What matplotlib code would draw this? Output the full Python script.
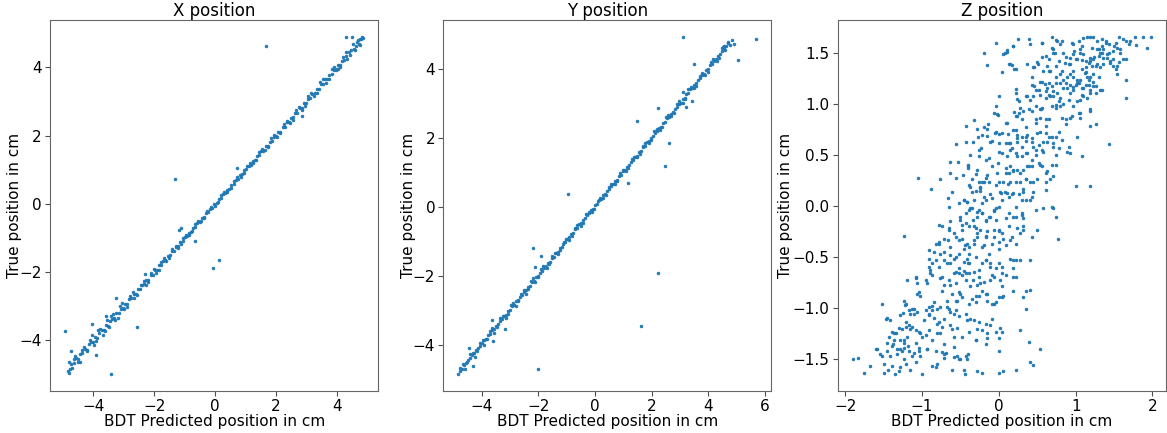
import matplotlib
matplotlib.use('Agg')
import matplotlib.pyplot as plt

# (predicted, true) pairs
x_line = [(-4.85,-4.90),(-4.78,-4.84),(-4.72,-4.70),(-4.64,-4.66),(-4.57,-4.52),(-4.50,-4.55),(-4.43,-4.40),(-4.36,-4.38),(-4.28,-4.24),(-4.22,-4.27),(-4.15,-4.12),(-4.08,-4.05),(-4.01,-4.06),(-3.94,-3.90),(-3.88,-3.93),(-3.80,-3.78),(-3.73,-3.70),(-3.66,-3.71),(-3.59,-3.55),(-3.52,-3.57),(-3.45,-3.42),(-3.38,-3.36),(-3.31,-3.34),(-3.24,-3.20),(-3.17,-3.21),(-3.10,-3.07),(-3.03,-3.05),(-2.96,-2.92),(-2.89,-2.93),(-2.82,-2.79),(-2.75,-2.77),(-2.68,-2.64),(-2.61,-2.63),(-2.54,-2.50),(-2.47,-2.49),(-2.40,-2.37),(-2.33,-2.35),(-2.26,-2.22),(-2.19,-2.22),(-2.12,-2.09),(-2.05,-2.07),(-1.98,-1.95),(-1.91,-1.93),(-1.84,-1.80),(-1.77,-1.79),(-1.70,-1.67),(-1.63,-1.65),(-1.56,-1.53),(-1.49,-1.51),(-1.42,-1.39),(-1.35,-1.37),(-1.28,-1.25),(-1.21,-1.23),(-1.14,-1.12),(-1.07,-1.09),(-1.00,-0.98),(-0.93,-0.95),(-0.86,-0.84),(-0.79,-0.81),(-0.72,-0.70),(-0.65,-0.67),(-0.58,-0.56),(-0.51,-0.53),(-0.44,-0.42),(-0.37,-0.39),(-0.30,-0.28),(-0.23,-0.25),(-0.16,-0.14),(-0.09,-0.11),(-0.02,0.00),(0.05,0.03),(0.12,0.14),(0.19,0.17),(0.26,0.28),(0.33,0.31),(0.40,0.42),(0.47,0.45),(0.54,0.56),(0.61,0.59),(0.68,0.70),(0.75,0.73),(0.82,0.84),(0.89,0.87),(0.96,0.98),(1.03,1.01),(1.10,1.12),(1.17,1.15),(1.24,1.26),(1.31,1.28),(1.38,1.40),(1.45,1.43),(1.52,1.55),(1.59,1.56),(1.66,1.69),(1.73,1.70),(1.80,1.83),(1.87,1.84),(1.94,1.97),(2.01,1.98),(2.08,2.11),(2.15,2.12),(2.22,2.25),(2.29,2.26),(2.36,2.39),(2.43,2.40),(2.50,2.53),(2.57,2.54),(2.64,2.67),(2.71,2.68),(2.78,2.81),(2.85,2.82),(2.92,2.95),(2.99,2.96),(3.06,3.09),(3.13,3.10),(3.20,3.23),(3.27,3.24),(3.34,3.37),(3.41,3.38),(3.48,3.51),(3.55,3.52),(3.62,3.65),(3.69,3.66),(3.76,3.79),(3.83,3.80),(3.90,3.93),(3.97,3.94),(4.04,4.07),(4.11,4.08),(4.18,4.20),(4.25,4.22),(4.32,4.35),(4.40,4.44),(4.48,4.50),(4.56,4.55),(4.64,4.62),(4.72,4.70),(4.80,4.84),(4.87,4.86),
    (-4.80,-4.62),(-4.70,-4.82),(-4.60,-4.45),(-4.45,-4.62),(-4.30,-4.20),(-4.05,-3.85),(-3.98,-4.14),(-3.85,-3.70),(-3.70,-3.85),(-3.55,-3.40),(-3.48,-3.62),(-3.35,-3.22),(-3.20,-3.34),(-3.05,-2.90),(-2.90,-3.02),(-2.70,-2.58),(-2.55,-2.67),(-2.35,-2.25),(-2.20,-2.30),(-2.02,-1.92),(-1.85,-1.95),(-1.68,-1.60),(-1.50,-1.58),(-1.30,-1.22),(-1.12,-1.18),(-0.95,-0.90),(-0.75,-0.80),(-0.55,-0.51),(-0.35,-0.40),(-0.12,-0.08),(0.10,0.05),(0.30,0.35),(0.52,0.48),(0.72,0.78),(0.95,0.90),(1.15,1.20),(1.35,1.30),(1.55,1.62),(1.75,1.68),(1.95,2.03),(2.15,2.08),(2.35,2.44),(2.55,2.47),(2.75,2.85),(2.95,2.86),(3.15,3.25),(3.35,3.26),(3.55,3.66),(3.75,3.65),(3.90,4.02),(4.00,3.95),(4.10,4.02),(4.30,4.45),(4.35,4.25),(4.55,4.70),(4.60,4.50),(4.70,4.80),(4.78,4.66),(4.82,4.90),
    (-4.65,-4.55),(-4.52,-4.62),(-4.38,-4.28),(-4.20,-4.32),(-4.10,-3.98),(-3.92,-4.02),(-3.78,-3.66),(-3.62,-3.74),(-3.42,-3.30),(-3.28,-3.40),(-3.12,-3.00),(-2.98,-3.08),(-2.80,-2.70),(-2.65,-2.75),(-2.45,-2.37),(-2.28,-2.38),(-2.10,-2.02),(-1.95,-2.03),(-1.78,-1.70),(-1.60,-1.68),(-1.40,-1.33),(-1.22,-1.29),(-1.05,-0.99),(-0.85,-0.90),(-0.65,-0.60),(-0.45,-0.49),(-0.25,-0.20),(0.00,-0.05),(0.20,0.26),(0.40,0.35),(0.62,0.68),(0.85,0.80),(1.05,1.11),(1.25,1.19),(1.45,1.52),(1.65,1.58),(1.85,1.93),(2.05,1.97),(2.25,2.34),(2.45,2.36),(2.65,2.75),(2.85,2.76),(3.05,3.16),(3.25,3.15),(3.45,3.57),(3.65,3.55),(3.85,3.97),(4.05,3.96),(4.20,4.32),(4.45,4.38),(4.65,4.76)]
x_outliers = [(1.67,4.62),(-1.31,0.74),(-0.08,-1.87),(0.12,-1.63),(-3.41,-4.99),(-2.55,-3.60),(-4.93,-3.73),(-4.75,-4.32),(-3.92,-4.43),(-4.04,-3.51),(-3.25,-2.77),(-1.11,-0.71),(-1.20,-0.76),(-0.66,-1.08),(2.87,2.57),(0.72,1.04),(4.30,4.89),(4.50,4.89),(4.78,4.84),(-4.80,-4.95),(-3.60,-3.30),(-2.30,-2.05)]

y_line = [(-4.82,-4.86),(-4.75,-4.76),(-4.68,-4.70),(-4.61,-4.60),(-4.54,-4.55),(-4.47,-4.44),(-4.40,-4.40),(-4.33,-4.30),(-4.26,-4.25),(-4.19,-4.16),(-4.12,-4.10),(-4.05,-4.03),(-3.98,-3.96),(-3.91,-3.88),(-3.84,-3.83),(-3.77,-3.73),(-3.70,-3.69),(-3.63,-3.59),(-3.56,-3.55),(-3.49,-3.45),(-3.42,-3.41),(-3.35,-3.31),(-3.28,-3.27),(-3.21,-3.17),(-3.14,-3.13),(-3.07,-3.03),(-3.00,-2.99),(-2.93,-2.89),(-2.86,-2.85),(-2.79,-2.75),(-2.72,-2.71),(-2.65,-2.61),(-2.58,-2.57),(-2.51,-2.47),(-2.44,-2.43),(-2.37,-2.33),(-2.30,-2.29),(-2.23,-2.19),(-2.16,-2.15),(-2.09,-2.05),(-2.02,-2.01),(-1.95,-1.91),(-1.88,-1.87),(-1.81,-1.77),(-1.74,-1.73),(-1.67,-1.63),(-1.60,-1.59),(-1.53,-1.49),(-1.46,-1.45),(-1.39,-1.35),(-1.32,-1.31),(-1.25,-1.21),(-1.18,-1.17),(-1.11,-1.07),(-1.04,-1.03),(-0.97,-0.93),(-0.90,-0.89),(-0.83,-0.79),(-0.76,-0.75),(-0.69,-0.65),(-0.62,-0.61),(-0.55,-0.51),(-0.48,-0.47),(-0.41,-0.37),(-0.34,-0.33),(-0.27,-0.23),(-0.20,-0.19),(-0.13,-0.09),(-0.06,-0.05),(0.01,0.05),(0.08,0.09),(0.15,0.19),(0.22,0.23),(0.29,0.33),(0.36,0.37),(0.43,0.47),(0.50,0.51),(0.57,0.61),(0.64,0.65),(0.71,0.75),(0.78,0.79),(0.85,0.89),(0.92,0.93),(0.99,1.03),(1.06,1.07),(1.13,1.17),(1.20,1.21),(1.27,1.31),(1.34,1.35),(1.41,1.45),(1.48,1.49),(1.55,1.59),(1.62,1.63),(1.69,1.73),(1.76,1.77),(1.83,1.87),(1.90,1.91),(1.97,2.01),(2.04,2.05),(2.11,2.15),(2.18,2.19),(2.25,2.29),(2.32,2.33),(2.39,2.43),(2.46,2.47),(2.53,2.57),(2.60,2.61),(2.67,2.71),(2.74,2.75),(2.81,2.85),(2.88,2.89),(2.95,2.99),(3.02,3.03),(3.09,3.13),(3.16,3.17),(3.23,3.27),(3.30,3.31),(3.37,3.41),(3.44,3.45),(3.51,3.55),(3.58,3.59),(3.65,3.69),(3.72,3.73),(3.79,3.83),(3.86,3.87),(3.93,3.97),(4.00,4.01),(4.07,4.11),(4.14,4.15),(4.21,4.25),(4.28,4.30),(4.35,4.39),(4.42,4.44),(4.49,4.53),(4.56,4.58),(4.63,4.67),(4.70,4.76),
    (-4.75,-4.68),(-4.60,-4.70),(-4.40,-4.28),(-4.25,-4.35),(-4.05,-3.95),(-3.90,-4.00),(-3.70,-3.60),(-3.55,-3.66),(-3.35,-3.24),(-3.15,-3.22),(-2.95,-2.84),(-2.80,-2.88),(-2.60,-2.52),(-2.45,-2.52),(-2.25,-2.14),(-2.10,-2.18),(-1.90,-1.82),(-1.70,-1.77),(-1.50,-1.42),(-1.30,-1.36),(-1.10,-1.02),(-0.90,-0.96),(-0.70,-0.62),(-0.50,-0.55),(-0.30,-0.22),(-0.10,-0.15),(0.10,0.18),(0.30,0.25),(0.50,0.58),(0.70,0.66),(0.90,0.98),(1.10,1.05),(1.30,1.38),(1.50,1.45),(1.70,1.78),(1.90,1.84),(2.10,2.20),(2.30,2.24),(2.50,2.60),(2.70,2.64),(2.90,3.00),(3.10,3.02),(3.30,3.42),(3.50,3.44),(3.70,3.80),(3.90,3.84),(4.10,4.20),(4.30,4.24),(4.50,4.62),(4.60,4.56),(4.68,4.80),(4.75,4.70),
    (-4.66,-4.58),(-4.50,-4.52),(-4.32,-4.24),(-4.15,-4.18),(-3.96,-3.86),(-3.80,-3.84),(-3.62,-3.52),(-3.46,-3.50),(-3.26,-3.16),(-3.08,-3.12),(-2.88,-2.78),(-2.70,-2.74),(-2.52,-2.43),(-2.35,-2.38),(-2.18,-2.08),(-2.00,-2.04),(-1.82,-1.72),(-1.62,-1.66),(-1.42,-1.33),(-1.22,-1.26),(-1.02,-0.94),(-0.82,-0.86),(-0.62,-0.54),(-0.42,-0.46),(-0.22,-0.14),(-0.02,-0.06),(0.18,0.26),(0.38,0.34),(0.58,0.66),(0.78,0.74),(0.98,1.06),(1.18,1.14),(1.38,1.46),(1.58,1.54),(1.78,1.86),(1.98,1.94),(2.18,2.27),(2.38,2.33),(2.58,2.68),(2.78,2.73),(2.98,3.08),(3.18,3.12),(3.38,3.49),(3.58,3.52),(3.78,3.89),(3.98,3.92),(4.18,4.30),(4.38,4.33),(4.55,4.68)]
y_outliers = [(3.09,4.94),(5.70,4.87),(5.05,4.28),(4.84,4.86),(4.92,4.74),(3.51,4.15),(2.24,2.87),(1.47,2.50),(2.63,1.85),(2.47,1.19),(1.17,0.69),(-0.96,0.38),(-2.18,-1.21),(-1.89,-1.44),(-2.13,-1.76),(2.24,-1.92),(1.64,-3.47),(-2.01,-4.72),(-3.16,-3.54),(-3.59,-3.89),(-4.32,-4.63),(-4.45,-4.10),(-3.62,-3.28),(3.12,3.34),(3.22,2.91),(3.42,3.07),(4.52,4.65)]

z_points = [
    # true ~ 1.55 .. 1.67
    (0.69,1.66),(0.82,1.62),(1.15,1.66),(1.19,1.66),(1.23,1.66),(1.34,1.64),(1.56,1.66),(1.62,1.64),(1.77,1.66),(1.88,1.66),(1.98,1.66),(-0.04,1.60),(0.39,1.64),(0.25,1.64),(0.56,1.60),(0.95,1.60),(1.04,1.62),(1.28,1.62),(1.39,1.60),(1.43,1.59),(1.58,1.54),(1.69,1.59),(1.50,1.57),(1.66,1.62),(1.93,1.55),(0.75,1.63),
    (1.10,1.65),(1.39,1.62),(1.52,1.60),(1.71,1.62),(1.78,1.58),(0.76,1.62),(0.80,1.59),(0.97,1.59),(0.41,1.59),(0.18,1.57),(1.08,1.57),(1.21,1.55),(1.30,1.54),(1.36,1.54),(1.54,1.55),(0.69,1.55),(0.56,1.60),
    # 1.3 .. 1.55
    (-0.19,1.50),(-0.16,1.38),(0.08,1.50),(0.11,1.53),(0.19,1.57),(0.04,1.31),(0.13,1.39),(0.17,1.38),(0.22,1.34),(0.37,1.39),(0.46,1.36),(0.51,1.39),(0.56,1.46),(0.63,1.37),(0.71,1.54),(0.73,1.50),(0.78,1.42),(0.86,1.40),(0.93,1.45),(1.00,1.44),(1.06,1.54),(1.10,1.49),(1.17,1.40),(1.21,1.37),(1.28,1.39),(1.32,1.50),(1.36,1.45),(1.41,1.49),(1.45,1.40),(1.49,1.52),(1.54,1.37),(1.65,1.44),(1.52,1.34),(1.19,1.42),(1.13,1.36),(0.91,1.39),(0.58,1.32),(1.28,1.54),(1.34,1.57),(1.24,1.46),(1.08,1.43),(0.98,1.52),
    (0.06,1.49),(0.11,1.51),(0.71,1.50),(0.84,1.50),(0.87,1.46),(0.74,1.37),(0.61,1.47),(0.65,1.44),(0.15,1.39),(0.20,1.34),(0.45,1.36),(0.50,1.41),(0.65,1.32),(0.97,1.49),(1.02,1.44),(0.93,1.39),(1.06,1.50),(1.13,1.42),(1.19,1.45),(1.23,1.44),(1.30,1.47),(1.34,1.50),(1.41,1.45),(1.45,1.42),(1.49,1.44),(1.56,1.41),(1.62,1.44),(1.49,1.37),(1.26,1.37),(1.32,1.36),(1.36,1.39),(1.43,1.50),(1.58,1.50),
    # 1.0 .. 1.3
    (0.00,1.08),(0.22,1.15),(0.24,1.05),(0.37,1.08),(0.46,1.18),(0.52,1.14),(0.56,1.22),(0.63,1.16),(0.67,1.08),(0.71,1.13),(0.74,1.27),(0.80,1.21),(0.84,1.16),(0.89,1.27),(0.93,1.19),(0.97,1.17),(1.02,1.21),(1.06,1.24),(1.10,1.16),(1.15,1.27),(1.17,1.19),(1.23,1.22),(1.30,1.27),(1.34,1.14),(1.65,1.24),(1.65,1.06),(0.91,1.04),(0.74,0.99),(1.06,1.04),(1.15,1.06),(0.61,1.06),(0.78,1.03),(0.82,1.32),(0.97,1.32),(0.48,0.98),(0.67,1.32),(1.19,1.11),(1.08,1.09),(0.43,1.27),(1.26,1.18),(1.12,1.30),(0.60,1.20),
    (1.54,1.29),(1.08,1.34),(1.13,1.31),(1.19,1.27),(1.23,1.29),(0.93,1.29),(0.97,1.27),(1.02,1.24),(0.80,1.29),(0.84,1.24),(0.87,1.21),(0.65,1.21),(0.69,1.18),(0.74,1.21),(0.54,1.22),(0.43,1.19),(0.48,1.14),(0.22,1.11),(0.26,1.03),(0.35,1.08),(0.41,1.04),(0.45,1.08),(0.54,1.09),(0.61,1.13),(0.65,1.09),(0.71,1.08),(0.76,1.11),(0.80,1.06),(0.89,1.16),(0.93,1.11),(0.97,1.14),(1.00,1.19),(1.04,1.21),(1.08,1.16),(1.13,1.19),(1.17,1.24),(1.19,1.14),(1.10,1.08),(1.02,1.03),(1.23,1.18),(1.26,1.11),(1.32,1.14),
    # 0.5 .. 1.0
    (-0.04,0.98),(-0.02,0.90),(-0.32,0.84),(-0.43,0.78),(-0.28,0.76),(-0.15,0.76),(-0.04,0.73),(0.04,0.72),(0.09,0.81),(0.11,0.81),(0.22,0.75),(0.24,0.88),(0.30,0.85),(0.39,0.95),(0.35,0.68),(0.43,0.67),(0.48,0.81),(0.54,0.73),(0.61,0.78),(0.65,0.85),(0.69,0.68),(0.78,0.73),(0.82,0.65),(0.87,0.80),(0.91,0.58),(0.95,0.88),(1.02,0.68),(1.06,0.91),(1.19,0.93),(1.26,0.80),(1.43,0.61),(1.19,0.78),(1.08,0.49),(0.13,0.62),(0.17,0.57),(0.24,0.67),(0.30,0.58),(0.37,0.52),(0.43,0.45),(0.52,0.60),(0.56,0.55),(0.63,0.63),(0.71,0.62),(0.74,0.50),(0.78,0.57),(0.89,0.53),(0.93,0.52),(0.04,0.52),(0.11,0.49),(0.00,0.62),(-0.11,0.63),(-0.22,0.70),(-0.37,0.50),(-0.56,0.61),(-0.17,0.45),(0.48,0.55),(0.69,0.40),(0.20,0.92),(0.55,0.95),(0.35,0.77),
    (0.97,0.98),(0.69,0.98),(0.74,0.96),(0.80,0.98),(0.84,1.00),(0.54,0.95),(0.56,0.96),(0.28,0.96),(0.32,0.93),(0.43,0.93),(0.22,0.88),(0.26,0.91),(1.19,0.95),(0.48,0.85),(0.54,0.86),(0.61,0.85),(0.82,0.86),(0.87,0.85),(0.93,0.86),(1.04,0.91),(1.06,0.86),
    (-0.19,0.77),(-0.14,0.80),(-0.27,0.68),(-0.16,0.69),(-0.09,0.64),(-0.34,0.63),(-0.43,0.63),(-0.26,0.55),(-0.23,0.57),(-0.06,0.91),(-0.01,0.89),(-0.05,0.72),(0.00,0.71),(0.12,0.71),(0.19,0.75),(0.24,0.70),(0.10,0.62),(0.14,0.62),(0.24,0.63),(0.30,0.68),(0.35,0.64),(0.37,0.70),(0.43,0.63),(0.45,0.58),(0.50,0.72),(0.57,0.63),(0.61,0.72),(0.65,0.68),(0.74,0.68),(0.70,0.58),(0.58,0.53),(0.48,0.50),(0.35,0.52),(0.30,0.49),(0.22,0.52),(0.15,0.55),(0.00,0.53),
    # 0.0 .. 0.5
    (-1.05,0.27),(-0.88,0.17),(-0.77,0.26),(-0.64,0.43),(-0.53,0.43),(-0.63,0.32),(-0.61,0.14),(-0.45,0.06),(-0.42,0.04),(-0.39,0.21),(-0.40,0.40),(-0.35,0.26),(-0.28,0.35),(-0.25,0.19),(-0.22,0.24),(-0.19,0.09),(-0.15,0.30),(-0.13,0.47),(-0.09,0.39),(-0.04,0.21),(-0.02,0.32),(0.02,0.14),(0.06,0.24),(0.10,0.32),(0.15,0.39),(0.19,0.35),(0.22,0.24),(0.26,0.12),(0.28,0.32),(0.32,0.17),(0.35,0.26),(0.39,0.39),(0.43,0.09),(0.45,0.24),(0.54,0.40),(0.61,0.32),(0.67,0.26),(0.74,0.40),(0.13,0.09),(0.08,0.14),(0.17,0.12),(0.30,0.06),(0.48,-0.04),(-0.11,0.12),(-0.32,0.06),(-0.22,0.03),(1.00,0.20),(1.19,0.20),(-0.52,0.03),(-0.17,0.06),(0.04,0.06),(0.24,0.49),(-0.26,0.49),(-0.47,0.30),(-0.30,0.15),(0.12,0.22),
    (-0.56,0.27),(-0.66,0.08),(-0.01,0.42),(0.09,0.37),(0.13,0.32),(0.19,0.34),(0.24,0.35),(0.32,0.35),(0.37,0.39),(0.43,0.39),(0.52,0.42),(0.56,0.39),(0.63,0.34),(0.71,0.29),(0.61,0.24),(0.50,0.26),(0.41,0.24),(0.35,0.26),(0.28,0.24),(0.14,0.24),(0.00,0.24),(-0.17,0.27),(-0.19,0.24),(-0.26,0.24),(-0.30,0.31),(-0.40,0.39),(-0.40,0.37),(-0.37,0.19),(-0.35,0.14),(-0.24,0.18),(-0.24,0.15),(-0.13,0.24),(-0.09,0.08),(0.03,0.13),(0.11,0.13),(0.19,0.13),(0.32,0.14),(0.35,0.06),(0.41,0.06),(0.45,0.14),(0.61,0.16),(-0.45,0.06),(-0.41,0.04),
    # -0.5 .. 0.0
    (-1.23,-0.29),(-0.65,-0.01),(-0.50,-0.14),(-0.37,-0.02),(-0.34,-0.14),(-0.28,-0.06),(-0.22,-0.07),(-0.17,-0.15),(-0.11,-0.11),(-0.04,-0.14),(0.00,-0.24),(0.04,-0.27),(0.13,-0.20),(0.17,-0.30),(0.22,-0.11),(0.30,-0.09),(0.32,-0.24),(0.43,-0.30),(0.50,-0.24),(0.71,-0.02),(0.74,-0.11),(0.77,-0.32),(-0.74,-0.20),(-0.65,-0.24),(-0.58,-0.27),(-0.78,-0.37),(-0.71,-0.45),(-0.91,-0.43),(-0.52,-0.33),(-0.45,-0.42),(-0.39,-0.47),(-0.41,-0.37),(-0.32,-0.33),(-0.28,-0.27),(-0.22,-0.40),(-0.17,-0.30),(-0.13,-0.47),(-0.09,-0.37),(0.00,-0.42),(0.06,-0.32),(-0.48,-0.24),(-0.39,-0.20),(-0.63,-0.40),(-0.56,-0.50),(-0.43,-0.07),(-0.32,-0.20),(0.22,-0.37),(0.28,-0.27),(-0.06,-0.05),(0.09,-0.12),
    (0.69,-0.01),(0.58,-0.02),(0.22,-0.01),(0.30,-0.07),(0.32,-0.12),(0.19,-0.11),(0.13,-0.07),(0.00,-0.01),(-0.04,-0.02),(-0.06,-0.04),(-0.13,-0.11),(-0.17,-0.14),(-0.22,-0.07),(-0.26,-0.04),(-0.28,-0.11),(-0.35,-0.02),(-0.39,-0.04),(-0.50,-0.11),(-0.43,-0.17),(-0.48,-0.19),(-0.63,-0.15),(-0.65,-0.22),(-0.78,-0.19),(-0.30,-0.22),(-0.24,-0.24),(-0.15,-0.25),(-0.06,-0.24),(0.00,-0.25),(0.24,-0.22),(0.32,-0.20),
    (-0.82,-0.37),(-0.78,-0.35),(-0.84,-0.45),(-0.71,-0.32),(-0.66,-0.33),(-0.56,-0.30),(-0.48,-0.32),(-0.44,-0.38),(-0.39,-0.40),(-0.32,-0.37),(-0.28,-0.30),(-0.19,-0.38),(-0.17,-0.29),(-0.06,-0.30),(0.00,-0.35),(0.09,-0.38),(0.15,-0.33),
    # -1.0 .. -0.5
    (-1.20,-0.73),(-1.08,-0.71),(-1.06,-0.86),(-1.02,-0.88),(-0.91,-0.60),(-0.87,-0.68),(-0.82,-0.53),(-0.78,-0.60),(-0.74,-0.70),(-0.71,-0.78),(-0.63,-0.56),(-0.58,-0.66),(-0.56,-0.76),(-0.52,-0.61),(-0.50,-0.86),(-0.43,-0.66),(-0.40,-0.56),(-0.37,-0.79),(-0.34,-0.73),(-0.30,-0.88),(-0.26,-0.63),(-0.19,-0.75),(-0.15,-0.86),(-0.11,-0.60),(-0.06,-0.70),(-0.04,-0.94),(0.00,-0.89),(0.04,-0.60),(0.10,-0.68),(0.19,-0.53),(0.23,-0.70),(0.32,-0.89),(0.35,-0.83),(0.41,-0.82),(0.41,-0.53),(0.28,-0.53),(0.35,-1.01),(-0.91,-0.99),(-0.84,-0.94),(-0.67,-0.93),(-0.61,-0.86),(-0.39,-0.96),(-0.22,-0.83),(-0.56,-0.93),(-0.74,-0.83),(-0.95,-0.73),(-0.17,-0.53),(-0.30,-0.50),(0.04,-0.79),(-0.09,-0.96),(0.19,-0.70),(-0.45,-0.64),
    (-0.91,-0.52),(-0.87,-0.56),(-0.76,-0.47),(-0.71,-0.53),(-0.67,-0.56),(-0.63,-0.48),(-0.58,-0.52),(-0.52,-0.47),(-0.45,-0.55),(-0.41,-0.52),(-0.39,-0.56),(-0.56,-0.65),(-0.52,-0.66),(-0.48,-0.68),(-0.39,-0.66),(-0.32,-0.65),(-0.26,-0.70),(-0.43,-0.73),(-0.65,-0.73),(-0.63,-0.78),(-0.76,-0.71),(-0.89,-0.66),(-0.89,-0.63),(-0.22,-0.56),(-0.17,-0.53),(-0.11,-0.56),(-0.04,-0.61),(-0.09,-0.68),(-0.11,-0.73),(0.00,-0.56),(0.04,-0.66),(0.02,-0.73),(0.15,-0.52),(0.19,-0.61),(0.22,-0.53),(-0.28,-0.78),(-0.24,-0.76),(-0.52,-0.84),(-0.48,-0.89),(-0.54,-0.93),(-0.35,-0.91),(-0.30,-0.94),(-0.26,-0.88),(-0.17,-0.86),(-0.15,-0.93),(-0.06,-0.96),(0.04,-0.89),(0.06,-0.88),(0.19,-0.83),(-1.04,-0.84),(-1.08,-0.70),(-1.06,-0.76),(-0.93,-0.76),
    # -1.35 .. -1.0
    (-1.52,-0.96),(-1.46,-1.10),(-1.41,-1.12),(-1.29,-1.07),(-1.23,-0.93),(-1.22,-0.97),(-1.17,-1.02),(-1.15,-1.06),(-1.10,-1.01),(-1.21,-1.14),(-1.17,-1.17),(-1.13,-1.19),(-1.08,-1.22),(-1.02,-1.25),(-0.97,-1.12),(-0.91,-1.07),(-0.87,-1.02),(-0.84,-1.10),(-0.80,-1.16),(-0.76,-1.25),(-0.71,-1.11),(-0.67,-0.99),(-0.63,-1.17),(-0.58,-1.06),(-0.54,-1.20),(-0.48,-1.29),(-0.39,-1.24),(-0.37,-1.11),(-0.26,-1.14),(-0.22,-1.22),(-0.15,-1.25),(-0.11,-1.17),(0.02,-1.20),(0.04,-1.24),(0.28,-1.22),(-1.30,-1.20),(-1.36,-1.25),(-1.43,-1.29),(-1.28,-1.32),(-1.19,-1.29),(-1.08,-1.34),(-0.95,-1.27),(-0.87,-1.32),(-0.30,-1.32),(-0.15,-1.30),(-0.71,-1.35),(-1.25,-1.05),
    (-1.21,-0.96),(-1.13,-1.01),(-1.10,-1.06),(-1.06,-1.04),(-0.95,-1.02),(-0.91,-1.06),(-0.87,-0.98),(-0.80,-1.01),(-0.76,-0.99),(-0.65,-1.01),(-0.63,-1.04),(-0.56,-1.02),(-0.52,-1.08),(-0.43,-1.06),(-0.41,-1.12),(-0.61,-1.21),(-0.58,-1.29),(-0.32,-1.12),(-0.28,-1.21),(-0.17,-1.16),(-0.09,-1.11),(-0.04,-1.24),(0.00,-1.30),(-1.47,-1.11),(-1.39,-1.24),(-1.34,-1.25),(-1.36,-1.32),(-1.23,-1.32),(-1.26,-1.21),(-1.21,-1.19),(-1.15,-1.21),(-1.04,-1.24),(-1.00,-1.29),(-0.91,-1.22),(-0.80,-1.25),(-0.78,-1.14),(-0.74,-1.19),
    # -1.67 .. -1.35
    (-1.90,-1.50),(-1.83,-1.49),(-1.76,-1.64),(-1.67,-1.57),(-1.59,-1.40),(-1.54,-1.45),(-1.49,-1.55),(-1.50,-1.64),(-1.45,-1.34),(-1.44,-1.61),(-1.39,-1.57),(-1.38,-1.35),(-1.35,-1.65),(-1.33,-1.45),(-1.29,-1.58),(-1.26,-1.42),(-1.23,-1.50),(-1.21,-1.55),(-1.18,-1.37),(-1.13,-1.47),(-1.08,-1.53),(-1.02,-1.47),(-0.93,-1.40),(-0.87,-1.57),(-0.82,-1.58),(-0.80,-1.55),(-0.74,-1.43),(-0.71,-1.49),(-0.61,-1.61),(-0.58,-1.38),(-0.54,-1.47),(-0.51,-1.50),(-0.45,-1.61),(-0.44,-1.65),(-0.41,-1.50),(-0.40,-1.45),(-0.29,-1.62),(-0.22,-1.64),(0.00,-1.64),(0.00,-1.42),(0.06,-1.62),(0.22,-1.61),(0.39,-1.33),(0.41,-1.53),(0.44,-1.56),(0.54,-1.40),(-1.00,-1.65),(-1.15,-1.61),(-1.42,-1.47),(-1.04,-1.42),(-1.23,-1.34),(-1.30,-1.62),
    (-1.60,-1.40),(-1.52,-1.47),(-1.45,-1.42),(-1.39,-1.37),(-1.32,-1.40),(-1.28,-1.40),(-1.23,-1.39),(-1.17,-1.42),(-1.10,-1.44),(-1.04,-1.39),(-0.93,-1.40),(-0.82,-1.42),(-0.71,-1.45),(-0.69,-1.44),(-0.58,-1.48),(-0.52,-1.50),(-0.43,-1.47),(-0.30,-1.32),(-0.17,-1.35)]

panels = [
    ('X position', x_line + x_outliers, -0.085),
    ('Y position', y_line + y_outliers, -0.085),
    ('Z position', z_points, -0.137),
]

fig = plt.figure(figsize=(11.67, 4.33), dpi=100)
left = [0.043, 0.380, 0.718]
for i, (title, pts, ylab_x) in enumerate(panels):
    ax = fig.add_axes([left[i], 0.097, 0.281, 0.857])
    pred = [p[0] for p in pts]
    true = [p[1] for p in pts]
    ax.scatter(pred, true, s=4, linewidths=0.5, color='#1f77b4')
    ax.set_title(title, fontsize=12, pad=3)
    ax.set_xlabel('BDT Predicted position in cm', fontsize=11, labelpad=0)
    ax.set_ylabel('True position in cm', fontsize=11)
    ax.yaxis.set_label_coords(ylab_x, 0.5)
    ax.tick_params(labelsize=11, color='0.3', pad=2.5)
    for sp in ax.spines.values():
        sp.set_color('0.4')

fig.savefig('out.png', dpi=100)
